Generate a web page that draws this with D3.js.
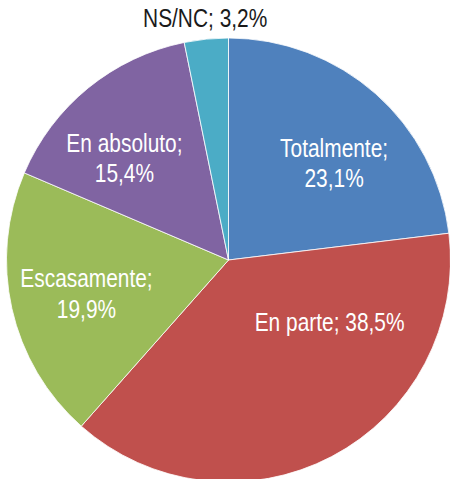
<!DOCTYPE html>
<html>
<head>
<meta charset="utf-8">
<script src="https://cdn.jsdelivr.net/npm/d3@7"></script>
<style>
  html, body { margin: 0; padding: 0; background: #fff; }
  .lbl { font-family: "Liberation Sans", Arial, sans-serif; font-size: 25.5px; }
</style>
</head>
<body>
<div id="chart"></div>
<script>
// data
var categories = ["Totalmente", "En parte", "Escasamente", "En absoluto", "NS/NC"];
var values = [23.1, 38.5, 19.9, 15.4, 3.2];
var valueLabels = ["23,1%", "38,5%", "19,9%", "15,4%", "3,2%"];

// layout / style (not data)
var colors = ["#4F81BD", "#C0504D", "#9BBB59", "#8064A2", "#4BACC6"];
// which labels get the value on a second line (as Excel did it)
var splitLabel = [true, false, true, true, false];
// label placement, polar: angle (deg, clockwise from top) and radius
var labelAngle = [47.3, 121.3, 256.9, 314.5, 354.5];
var labelRadius = [143.7, 118.3, 145.8, 145.9, 243.6];
var labelColor = ["#fff", "#fff", "#fff", "#fff", "#1a1a1a"];

var svgWidth = 450;
var svgHeight = 479;
var cx = 228.5, cy = 260, radius = 222;
var lineHeight = 30.5;
var capHeight = 18.5;
var narrow = 0.82; // no Arial Narrow installed, squeeze Liberation Sans instead

var svg = d3.select("#chart")
  .append("svg")
  .attr("width", svgWidth)
  .attr("height", svgHeight);

var g = svg.append("g")
  .attr("transform", `translate(${cx}, ${cy})`);

var pie = d3.pie().sort(null).value(d => d);
var arcs = pie(values);

var arc = d3.arc().innerRadius(0).outerRadius(radius);

g.selectAll("path.slice")
  .data(arcs)
  .enter()
  .append("path")
  .attr("class", "slice")
  .attr("d", arc)
  .attr("fill", (d, i) => colors[i])
  .attr("stroke", "#fff")
  .attr("stroke-width", 0.8);

// labels
arcs.forEach(function(d, i) {
  var a = labelAngle[i] * Math.PI / 180;
  var x = Math.sin(a) * labelRadius[i];
  var y = -Math.cos(a) * labelRadius[i];
  var lines = splitLabel[i]
    ? [categories[i] + ";", valueLabels[i]]
    : [categories[i] + "; " + valueLabels[i]];
  var firstBase = -(lines.length - 1) * lineHeight / 2 + capHeight / 2;
  var t = g.append("text")
    .attr("class", "lbl")
    .attr("text-anchor", "middle")
    .attr("transform", `translate(${x}, ${y}) scale(${narrow}, 1)`)
    .attr("fill", labelColor[i]);
  lines.forEach(function(s, k) {
    t.append("tspan")
      .attr("x", 0)
      .attr("y", firstBase + k * lineHeight)
      .text(s);
  });
});
</script>
</body>
</html>
